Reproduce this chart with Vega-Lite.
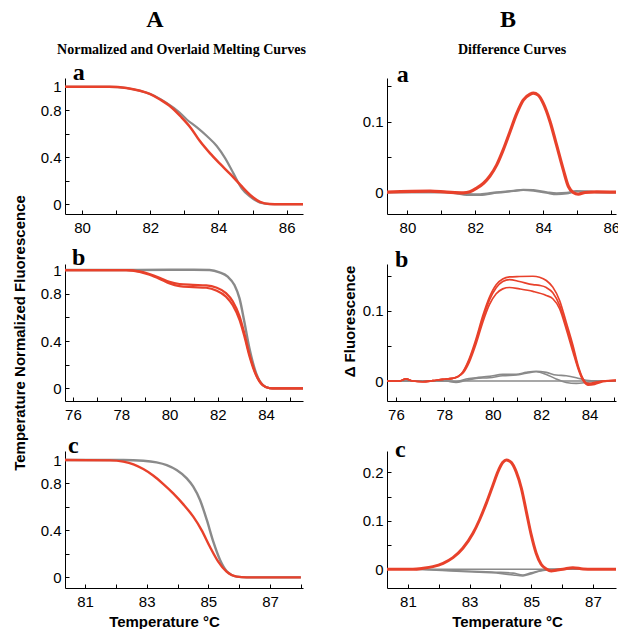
{
"$schema":"https://vega.github.io/schema/vega-lite/v6.json",
"autosize":{"type":"pad"},
"padding":{"left":12,"top":8,"right":0,"bottom":0},
"background":"white",
"columns":2,
"spacing":{"row":50,"column":84},
"bounds":"flush",
"config":{
 "view":{"stroke":null},
 "axis":{"domainColor":"#000","domainWidth":1,"tickColor":"#000","tickSize":-4,"tickWidth":1,"labelColor":"#000","labelFont":"Liberation Sans","labelFontSize":15,"labelFlush":false,"labelOverlap":false,"labelBound":false,"grid":false,"titleColor":"#000","titleFont":"Liberation Sans","titleFontSize":15,"titleFontWeight":"bold"},
 "axisX":{"labelPadding":10},
 "axisY":{"labelPadding":8}
},
"datasets":{
"lab":[{"p":"Aa","label":"a"},{"p":"Ab","label":"b"},{"p":"Ac","label":"c"},{"p":"Ba","label":"a"},{"p":"Bb","label":"b"},{"p":"Bc","label":"c"}],
"curves":[
{"p":"Aa","s":"g1","g":"gray","t":79.5,"v":1},{"p":"Aa","s":"g1","g":"gray","t":80.8,"v":1},{"p":"Aa","s":"g1","g":"gray","t":81.3,"v":0.99},{"p":"Aa","s":"g1","g":"gray","t":81.7,"v":0.966},{"p":"Aa","s":"g1","g":"gray","t":82.0,"v":0.938},{"p":"Aa","s":"g1","g":"gray","t":82.3,"v":0.895},{"p":"Aa","s":"g1","g":"gray","t":82.5,"v":0.858},{"p":"Aa","s":"g1","g":"gray","t":82.8,"v":0.796},{"p":"Aa","s":"g1","g":"gray","t":83.07,"v":0.722},{"p":"Aa","s":"g1","g":"gray","t":83.37,"v":0.654},{"p":"Aa","s":"g1","g":"gray","t":83.66,"v":0.581},{"p":"Aa","s":"g1","g":"gray","t":83.95,"v":0.496},{"p":"Aa","s":"g1","g":"gray","t":84.2,"v":0.391},{"p":"Aa","s":"g1","g":"gray","t":84.44,"v":0.263},{"p":"Aa","s":"g1","g":"gray","t":84.68,"v":0.136},{"p":"Aa","s":"g1","g":"gray","t":84.93,"v":0.065},{"p":"Aa","s":"g1","g":"gray","t":85.22,"v":0.014},{"p":"Aa","s":"g1","g":"gray","t":85.6,"v":0},{"p":"Aa","s":"g1","g":"gray","t":86.48,"v":0},
{"p":"Aa","s":"r1","g":"red","t":79.5,"v":1},{"p":"Aa","s":"r1","g":"red","t":80.8,"v":1},{"p":"Aa","s":"r1","g":"red","t":81.3,"v":0.99},{"p":"Aa","s":"r1","g":"red","t":81.7,"v":0.966},{"p":"Aa","s":"r1","g":"red","t":82.0,"v":0.938},{"p":"Aa","s":"r1","g":"red","t":82.3,"v":0.89},{"p":"Aa","s":"r1","g":"red","t":82.6,"v":0.83},{"p":"Aa","s":"r1","g":"red","t":82.9,"v":0.745},{"p":"Aa","s":"r1","g":"red","t":83.2,"v":0.646},{"p":"Aa","s":"r1","g":"red","t":83.45,"v":0.54},{"p":"Aa","s":"r1","g":"red","t":83.75,"v":0.435},{"p":"Aa","s":"r1","g":"red","t":84.05,"v":0.343},{"p":"Aa","s":"r1","g":"red","t":84.35,"v":0.256},{"p":"Aa","s":"r1","g":"red","t":84.65,"v":0.162},{"p":"Aa","s":"r1","g":"red","t":84.93,"v":0.079},{"p":"Aa","s":"r1","g":"red","t":85.22,"v":0.02},{"p":"Aa","s":"r1","g":"red","t":85.5,"v":0.002},{"p":"Aa","s":"r1","g":"red","t":85.8,"v":0},{"p":"Aa","s":"r1","g":"red","t":86.48,"v":0},
{"p":"Ab","s":"g1","g":"gray","t":75.67,"v":1},{"p":"Ab","s":"g1","g":"gray","t":78.2,"v":1},{"p":"Ab","s":"g1","g":"gray","t":80.0,"v":1.002},{"p":"Ab","s":"g1","g":"gray","t":81.0,"v":1.003},{"p":"Ab","s":"g1","g":"gray","t":81.66,"v":1},{"p":"Ab","s":"g1","g":"gray","t":82.07,"v":0.98},{"p":"Ab","s":"g1","g":"gray","t":82.41,"v":0.944},{"p":"Ab","s":"g1","g":"gray","t":82.69,"v":0.873},{"p":"Ab","s":"g1","g":"gray","t":82.9,"v":0.76},{"p":"Ab","s":"g1","g":"gray","t":83.1,"v":0.563},{"p":"Ab","s":"g1","g":"gray","t":83.31,"v":0.338},{"p":"Ab","s":"g1","g":"gray","t":83.59,"v":0.127},{"p":"Ab","s":"g1","g":"gray","t":83.86,"v":0.03},{"p":"Ab","s":"g1","g":"gray","t":84.14,"v":0.002},{"p":"Ab","s":"g1","g":"gray","t":84.4,"v":0},{"p":"Ab","s":"g1","g":"gray","t":85.53,"v":0},
{"p":"Ab","s":"r1","g":"red","t":75.67,"v":1},{"p":"Ab","s":"r1","g":"red","t":78.2,"v":1},{"p":"Ab","s":"r1","g":"red","t":78.76,"v":0.988},{"p":"Ab","s":"r1","g":"red","t":79.17,"v":0.966},{"p":"Ab","s":"r1","g":"red","t":79.59,"v":0.935},{"p":"Ab","s":"r1","g":"red","t":80.0,"v":0.9},{"p":"Ab","s":"r1","g":"red","t":80.41,"v":0.882},{"p":"Ab","s":"r1","g":"red","t":80.97,"v":0.875},{"p":"Ab","s":"r1","g":"red","t":81.52,"v":0.87},{"p":"Ab","s":"r1","g":"red","t":81.93,"v":0.852},{"p":"Ab","s":"r1","g":"red","t":82.34,"v":0.805},{"p":"Ab","s":"r1","g":"red","t":82.62,"v":0.735},{"p":"Ab","s":"r1","g":"red","t":82.9,"v":0.61},{"p":"Ab","s":"r1","g":"red","t":83.1,"v":0.465},{"p":"Ab","s":"r1","g":"red","t":83.31,"v":0.29},{"p":"Ab","s":"r1","g":"red","t":83.59,"v":0.115},{"p":"Ab","s":"r1","g":"red","t":83.86,"v":0.028},{"p":"Ab","s":"r1","g":"red","t":84.14,"v":0.002},{"p":"Ab","s":"r1","g":"red","t":84.4,"v":0},{"p":"Ab","s":"r1","g":"red","t":85.53,"v":0},
{"p":"Ab","s":"r2","g":"red","t":75.67,"v":1},{"p":"Ab","s":"r2","g":"red","t":78.2,"v":1},{"p":"Ab","s":"r2","g":"red","t":78.76,"v":0.985},{"p":"Ab","s":"r2","g":"red","t":79.17,"v":0.96},{"p":"Ab","s":"r2","g":"red","t":79.59,"v":0.925},{"p":"Ab","s":"r2","g":"red","t":80.0,"v":0.886},{"p":"Ab","s":"r2","g":"red","t":80.41,"v":0.864},{"p":"Ab","s":"r2","g":"red","t":80.97,"v":0.856},{"p":"Ab","s":"r2","g":"red","t":81.52,"v":0.85},{"p":"Ab","s":"r2","g":"red","t":81.93,"v":0.828},{"p":"Ab","s":"r2","g":"red","t":82.34,"v":0.775},{"p":"Ab","s":"r2","g":"red","t":82.62,"v":0.702},{"p":"Ab","s":"r2","g":"red","t":82.9,"v":0.578},{"p":"Ab","s":"r2","g":"red","t":83.1,"v":0.44},{"p":"Ab","s":"r2","g":"red","t":83.31,"v":0.272},{"p":"Ab","s":"r2","g":"red","t":83.59,"v":0.108},{"p":"Ab","s":"r2","g":"red","t":83.86,"v":0.026},{"p":"Ab","s":"r2","g":"red","t":84.14,"v":0.002},{"p":"Ab","s":"r2","g":"red","t":84.4,"v":0},{"p":"Ab","s":"r2","g":"red","t":85.53,"v":0},
{"p":"Ac","s":"g1","g":"gray","t":80.35,"v":1},{"p":"Ac","s":"g1","g":"gray","t":82.24,"v":1},{"p":"Ac","s":"g1","g":"gray","t":82.89,"v":0.994},{"p":"Ac","s":"g1","g":"gray","t":83.32,"v":0.98},{"p":"Ac","s":"g1","g":"gray","t":83.65,"v":0.957},{"p":"Ac","s":"g1","g":"gray","t":83.97,"v":0.915},{"p":"Ac","s":"g1","g":"gray","t":84.3,"v":0.844},{"p":"Ac","s":"g1","g":"gray","t":84.51,"v":0.773},{"p":"Ac","s":"g1","g":"gray","t":84.73,"v":0.659},{"p":"Ac","s":"g1","g":"gray","t":84.95,"v":0.489},{"p":"Ac","s":"g1","g":"gray","t":85.16,"v":0.304},{"p":"Ac","s":"g1","g":"gray","t":85.38,"v":0.148},{"p":"Ac","s":"g1","g":"gray","t":85.59,"v":0.054},{"p":"Ac","s":"g1","g":"gray","t":85.92,"v":0.006},{"p":"Ac","s":"g1","g":"gray","t":86.24,"v":0},{"p":"Ac","s":"g1","g":"gray","t":88.0,"v":0},
{"p":"Ac","s":"r1","g":"red","t":80.35,"v":1},{"p":"Ac","s":"r1","g":"red","t":81.81,"v":0.997},{"p":"Ac","s":"r1","g":"red","t":82.24,"v":0.986},{"p":"Ac","s":"r1","g":"red","t":82.57,"v":0.963},{"p":"Ac","s":"r1","g":"red","t":82.89,"v":0.923},{"p":"Ac","s":"r1","g":"red","t":83.22,"v":0.866},{"p":"Ac","s":"r1","g":"red","t":83.54,"v":0.795},{"p":"Ac","s":"r1","g":"red","t":83.86,"v":0.716},{"p":"Ac","s":"r1","g":"red","t":84.19,"v":0.622},{"p":"Ac","s":"r1","g":"red","t":84.51,"v":0.517},{"p":"Ac","s":"r1","g":"red","t":84.78,"v":0.403},{"p":"Ac","s":"r1","g":"red","t":85.05,"v":0.261},{"p":"Ac","s":"r1","g":"red","t":85.32,"v":0.134},{"p":"Ac","s":"r1","g":"red","t":85.59,"v":0.048},{"p":"Ac","s":"r1","g":"red","t":85.92,"v":0.006},{"p":"Ac","s":"r1","g":"red","t":86.24,"v":0},{"p":"Ac","s":"r1","g":"red","t":88.0,"v":0},
{"p":"Ba","s":"g1","g":"gray","t":79.4,"v":0},{"p":"Ba","s":"g1","g":"gray","t":81.16,"v":0},{"p":"Ba","s":"g1","g":"gray","t":81.45,"v":-0.002},{"p":"Ba","s":"g1","g":"gray","t":81.75,"v":-0.004},{"p":"Ba","s":"g1","g":"gray","t":82.14,"v":-0.004},{"p":"Ba","s":"g1","g":"gray","t":82.63,"v":-0.001},{"p":"Ba","s":"g1","g":"gray","t":83.12,"v":0.0015},{"p":"Ba","s":"g1","g":"gray","t":83.41,"v":0.003},{"p":"Ba","s":"g1","g":"gray","t":83.71,"v":0.002},{"p":"Ba","s":"g1","g":"gray","t":84.1,"v":-0.001},{"p":"Ba","s":"g1","g":"gray","t":84.39,"v":-0.003},{"p":"Ba","s":"g1","g":"gray","t":84.69,"v":-0.002},{"p":"Ba","s":"g1","g":"gray","t":84.98,"v":0.001},{"p":"Ba","s":"g1","g":"gray","t":85.27,"v":0.001},{"p":"Ba","s":"g1","g":"gray","t":85.57,"v":0},{"p":"Ba","s":"g1","g":"gray","t":86.14,"v":0},
{"p":"Ba","s":"g2","g":"gray","t":79.4,"v":0},{"p":"Ba","s":"g2","g":"gray","t":81.16,"v":0},{"p":"Ba","s":"g2","g":"gray","t":81.45,"v":-0.001},{"p":"Ba","s":"g2","g":"gray","t":81.75,"v":-0.0025},{"p":"Ba","s":"g2","g":"gray","t":82.14,"v":-0.003},{"p":"Ba","s":"g2","g":"gray","t":82.63,"v":0},{"p":"Ba","s":"g2","g":"gray","t":83.12,"v":0.002},{"p":"Ba","s":"g2","g":"gray","t":83.41,"v":0.0035},{"p":"Ba","s":"g2","g":"gray","t":83.71,"v":0.003},{"p":"Ba","s":"g2","g":"gray","t":84.1,"v":0},{"p":"Ba","s":"g2","g":"gray","t":84.39,"v":-0.0015},{"p":"Ba","s":"g2","g":"gray","t":84.69,"v":-0.001},{"p":"Ba","s":"g2","g":"gray","t":84.98,"v":0.0015},{"p":"Ba","s":"g2","g":"gray","t":85.27,"v":0.001},{"p":"Ba","s":"g2","g":"gray","t":85.57,"v":0},{"p":"Ba","s":"g2","g":"gray","t":86.14,"v":0},
{"p":"Ba","s":"r1","g":"red","t":79.4,"v":0},{"p":"Ba","s":"r1","g":"red","t":80.67,"v":0.0014},{"p":"Ba","s":"r1","g":"red","t":81.16,"v":0},{"p":"Ba","s":"r1","g":"red","t":81.65,"v":-0.001},{"p":"Ba","s":"r1","g":"red","t":81.84,"v":0.0005},{"p":"Ba","s":"r1","g":"red","t":82.04,"v":0.0057},{"p":"Ba","s":"r1","g":"red","t":82.24,"v":0.0127},{"p":"Ba","s":"r1","g":"red","t":82.43,"v":0.023},{"p":"Ba","s":"r1","g":"red","t":82.63,"v":0.0387},{"p":"Ba","s":"r1","g":"red","t":82.82,"v":0.06},{"p":"Ba","s":"r1","g":"red","t":83.02,"v":0.0858},{"p":"Ba","s":"r1","g":"red","t":83.22,"v":0.1118},{"p":"Ba","s":"r1","g":"red","t":83.41,"v":0.1307},{"p":"Ba","s":"r1","g":"red","t":83.61,"v":0.139},{"p":"Ba","s":"r1","g":"red","t":83.71,"v":0.1405},{"p":"Ba","s":"r1","g":"red","t":83.85,"v":0.1377},{"p":"Ba","s":"r1","g":"red","t":84.0,"v":0.126},{"p":"Ba","s":"r1","g":"red","t":84.2,"v":0.1},{"p":"Ba","s":"r1","g":"red","t":84.39,"v":0.067},{"p":"Ba","s":"r1","g":"red","t":84.59,"v":0.0316},{"p":"Ba","s":"r1","g":"red","t":84.74,"v":0.008},{"p":"Ba","s":"r1","g":"red","t":84.88,"v":-0.0005},{"p":"Ba","s":"r1","g":"red","t":85.03,"v":-0.003},{"p":"Ba","s":"r1","g":"red","t":85.23,"v":-0.0005},{"p":"Ba","s":"r1","g":"red","t":85.57,"v":0.0005},{"p":"Ba","s":"r1","g":"red","t":86.14,"v":0},
{"p":"Bb","s":"g0","g":"gray","t":75.63,"v":0},{"p":"Bb","s":"g0","g":"gray","t":85.09,"v":0},
{"p":"Bb","s":"g1","g":"gray","t":75.63,"v":0},{"p":"Bb","s":"g1","g":"gray","t":78.07,"v":0},{"p":"Bb","s":"g1","g":"gray","t":78.48,"v":-0.001},{"p":"Bb","s":"g1","g":"gray","t":78.9,"v":0.003},{"p":"Bb","s":"g1","g":"gray","t":79.31,"v":0.0047},{"p":"Bb","s":"g1","g":"gray","t":79.86,"v":0.0066},{"p":"Bb","s":"g1","g":"gray","t":80.41,"v":0.0094},{"p":"Bb","s":"g1","g":"gray","t":80.97,"v":0.0094},{"p":"Bb","s":"g1","g":"gray","t":81.38,"v":0.0123},{"p":"Bb","s":"g1","g":"gray","t":81.79,"v":0.014},{"p":"Bb","s":"g1","g":"gray","t":82.21,"v":0.0123},{"p":"Bb","s":"g1","g":"gray","t":82.62,"v":0.0085},{"p":"Bb","s":"g1","g":"gray","t":83.03,"v":0.0075},{"p":"Bb","s":"g1","g":"gray","t":83.45,"v":0.0047},{"p":"Bb","s":"g1","g":"gray","t":83.86,"v":0.001},{"p":"Bb","s":"g1","g":"gray","t":84.28,"v":0},{"p":"Bb","s":"g1","g":"gray","t":85.09,"v":0},
{"p":"Bb","s":"g2","g":"gray","t":75.63,"v":0},{"p":"Bb","s":"g2","g":"gray","t":78.07,"v":0},{"p":"Bb","s":"g2","g":"gray","t":78.48,"v":-0.002},{"p":"Bb","s":"g2","g":"gray","t":78.9,"v":0.001},{"p":"Bb","s":"g2","g":"gray","t":79.31,"v":0.0038},{"p":"Bb","s":"g2","g":"gray","t":79.86,"v":0.0047},{"p":"Bb","s":"g2","g":"gray","t":80.41,"v":0.0075},{"p":"Bb","s":"g2","g":"gray","t":80.97,"v":0.0085},{"p":"Bb","s":"g2","g":"gray","t":81.38,"v":0.011},{"p":"Bb","s":"g2","g":"gray","t":81.79,"v":0.0132},{"p":"Bb","s":"g2","g":"gray","t":82.21,"v":0.0094},{"p":"Bb","s":"g2","g":"gray","t":82.62,"v":0.003},{"p":"Bb","s":"g2","g":"gray","t":83.03,"v":-0.002},{"p":"Bb","s":"g2","g":"gray","t":83.45,"v":-0.0033},{"p":"Bb","s":"g2","g":"gray","t":83.86,"v":-0.002},{"p":"Bb","s":"g2","g":"gray","t":84.28,"v":0},{"p":"Bb","s":"g2","g":"gray","t":85.09,"v":0},
{"p":"Bb","s":"r1","g":"red","t":75.63,"v":0},{"p":"Bb","s":"r1","g":"red","t":76.14,"v":0},{"p":"Bb","s":"r1","g":"red","t":76.41,"v":0.003},{"p":"Bb","s":"r1","g":"red","t":76.69,"v":0},{"p":"Bb","s":"r1","g":"red","t":77.1,"v":-0.001},{"p":"Bb","s":"r1","g":"red","t":77.52,"v":0.0005},{"p":"Bb","s":"r1","g":"red","t":77.93,"v":0.0024},{"p":"Bb","s":"r1","g":"red","t":78.34,"v":0.0038},{"p":"Bb","s":"r1","g":"red","t":78.55,"v":0.006},{"p":"Bb","s":"r1","g":"red","t":78.76,"v":0.013},{"p":"Bb","s":"r1","g":"red","t":79.03,"v":0.032},{"p":"Bb","s":"r1","g":"red","t":79.31,"v":0.06},{"p":"Bb","s":"r1","g":"red","t":79.59,"v":0.093},{"p":"Bb","s":"r1","g":"red","t":79.86,"v":0.119},{"p":"Bb","s":"r1","g":"red","t":80.14,"v":0.137},{"p":"Bb","s":"r1","g":"red","t":80.41,"v":0.145},{"p":"Bb","s":"r1","g":"red","t":80.69,"v":0.148},{"p":"Bb","s":"r1","g":"red","t":81.1,"v":0.1486},{"p":"Bb","s":"r1","g":"red","t":81.66,"v":0.149},{"p":"Bb","s":"r1","g":"red","t":81.93,"v":0.1476},{"p":"Bb","s":"r1","g":"red","t":82.21,"v":0.143},{"p":"Bb","s":"r1","g":"red","t":82.48,"v":0.1335},{"p":"Bb","s":"r1","g":"red","t":82.76,"v":0.1146},{"p":"Bb","s":"r1","g":"red","t":83.03,"v":0.084},{"p":"Bb","s":"r1","g":"red","t":83.31,"v":0.051},{"p":"Bb","s":"r1","g":"red","t":83.52,"v":0.0226},{"p":"Bb","s":"r1","g":"red","t":83.72,"v":0.0038},{"p":"Bb","s":"r1","g":"red","t":83.93,"v":-0.0033},{"p":"Bb","s":"r1","g":"red","t":84.21,"v":-0.002},{"p":"Bb","s":"r1","g":"red","t":84.55,"v":0},{"p":"Bb","s":"r1","g":"red","t":85.09,"v":0.001},
{"p":"Bb","s":"r2","g":"red","t":75.63,"v":0},{"p":"Bb","s":"r2","g":"red","t":76.14,"v":0},{"p":"Bb","s":"r2","g":"red","t":76.41,"v":0.003},{"p":"Bb","s":"r2","g":"red","t":76.69,"v":0},{"p":"Bb","s":"r2","g":"red","t":77.1,"v":-0.001},{"p":"Bb","s":"r2","g":"red","t":77.52,"v":0.0005},{"p":"Bb","s":"r2","g":"red","t":77.93,"v":0.0024},{"p":"Bb","s":"r2","g":"red","t":78.34,"v":0.0038},{"p":"Bb","s":"r2","g":"red","t":78.55,"v":0.006},{"p":"Bb","s":"r2","g":"red","t":78.76,"v":0.012},{"p":"Bb","s":"r2","g":"red","t":79.03,"v":0.03},{"p":"Bb","s":"r2","g":"red","t":79.31,"v":0.057},{"p":"Bb","s":"r2","g":"red","t":79.59,"v":0.089},{"p":"Bb","s":"r2","g":"red","t":79.86,"v":0.115},{"p":"Bb","s":"r2","g":"red","t":80.14,"v":0.1325},{"p":"Bb","s":"r2","g":"red","t":80.41,"v":0.1415},{"p":"Bb","s":"r2","g":"red","t":80.69,"v":0.1443},{"p":"Bb","s":"r2","g":"red","t":81.1,"v":0.1415},{"p":"Bb","s":"r2","g":"red","t":81.66,"v":0.137},{"p":"Bb","s":"r2","g":"red","t":81.93,"v":0.136},{"p":"Bb","s":"r2","g":"red","t":82.21,"v":0.133},{"p":"Bb","s":"r2","g":"red","t":82.48,"v":0.1255},{"p":"Bb","s":"r2","g":"red","t":82.76,"v":0.1075},{"p":"Bb","s":"r2","g":"red","t":83.03,"v":0.078},{"p":"Bb","s":"r2","g":"red","t":83.31,"v":0.046},{"p":"Bb","s":"r2","g":"red","t":83.52,"v":0.02},{"p":"Bb","s":"r2","g":"red","t":83.72,"v":0.003},{"p":"Bb","s":"r2","g":"red","t":83.93,"v":-0.0047},{"p":"Bb","s":"r2","g":"red","t":84.21,"v":-0.003},{"p":"Bb","s":"r2","g":"red","t":84.55,"v":0},{"p":"Bb","s":"r2","g":"red","t":85.09,"v":0.001},
{"p":"Bb","s":"r3","g":"red","t":75.63,"v":0},{"p":"Bb","s":"r3","g":"red","t":76.14,"v":0},{"p":"Bb","s":"r3","g":"red","t":76.41,"v":0.003},{"p":"Bb","s":"r3","g":"red","t":76.69,"v":0},{"p":"Bb","s":"r3","g":"red","t":77.1,"v":-0.001},{"p":"Bb","s":"r3","g":"red","t":77.52,"v":0.0005},{"p":"Bb","s":"r3","g":"red","t":77.93,"v":0.0024},{"p":"Bb","s":"r3","g":"red","t":78.34,"v":0.0038},{"p":"Bb","s":"r3","g":"red","t":78.55,"v":0.006},{"p":"Bb","s":"r3","g":"red","t":78.76,"v":0.011},{"p":"Bb","s":"r3","g":"red","t":79.03,"v":0.027},{"p":"Bb","s":"r3","g":"red","t":79.31,"v":0.053},{"p":"Bb","s":"r3","g":"red","t":79.59,"v":0.084},{"p":"Bb","s":"r3","g":"red","t":79.86,"v":0.1085},{"p":"Bb","s":"r3","g":"red","t":80.14,"v":0.124},{"p":"Bb","s":"r3","g":"red","t":80.41,"v":0.131},{"p":"Bb","s":"r3","g":"red","t":80.69,"v":0.133},{"p":"Bb","s":"r3","g":"red","t":81.1,"v":0.131},{"p":"Bb","s":"r3","g":"red","t":81.66,"v":0.1274},{"p":"Bb","s":"r3","g":"red","t":82.21,"v":0.1217},{"p":"Bb","s":"r3","g":"red","t":82.48,"v":0.117},{"p":"Bb","s":"r3","g":"red","t":82.76,"v":0.1028},{"p":"Bb","s":"r3","g":"red","t":83.03,"v":0.0745},{"p":"Bb","s":"r3","g":"red","t":83.31,"v":0.0415},{"p":"Bb","s":"r3","g":"red","t":83.52,"v":0.018},{"p":"Bb","s":"r3","g":"red","t":83.72,"v":0.0014},{"p":"Bb","s":"r3","g":"red","t":83.93,"v":-0.0057},{"p":"Bb","s":"r3","g":"red","t":84.21,"v":-0.0047},{"p":"Bb","s":"r3","g":"red","t":84.55,"v":-0.001},{"p":"Bb","s":"r3","g":"red","t":85.09,"v":0.001},
{"p":"Bc","s":"g0","g":"gray","t":80.32,"v":0},{"p":"Bc","s":"g0","g":"gray","t":87.75,"v":0},
{"p":"Bc","s":"g1","g":"gray","t":80.32,"v":0},{"p":"Bc","s":"g1","g":"gray","t":81.16,"v":0},{"p":"Bc","s":"g1","g":"gray","t":81.7,"v":-0.0007},{"p":"Bc","s":"g1","g":"gray","t":82.24,"v":-0.002},{"p":"Bc","s":"g1","g":"gray","t":82.78,"v":-0.0034},{"p":"Bc","s":"g1","g":"gray","t":83.32,"v":-0.0048},{"p":"Bc","s":"g1","g":"gray","t":83.86,"v":-0.006},{"p":"Bc","s":"g1","g":"gray","t":84.41,"v":-0.008},{"p":"Bc","s":"g1","g":"gray","t":84.73,"v":-0.0117},{"p":"Bc","s":"g1","g":"gray","t":84.95,"v":-0.008},{"p":"Bc","s":"g1","g":"gray","t":85.27,"v":-0.0034},{"p":"Bc","s":"g1","g":"gray","t":85.59,"v":-0.0007},{"p":"Bc","s":"g1","g":"gray","t":86.03,"v":0},{"p":"Bc","s":"g1","g":"gray","t":87.75,"v":0},
{"p":"Bc","s":"g2","g":"gray","t":80.32,"v":0},{"p":"Bc","s":"g2","g":"gray","t":81.16,"v":0},{"p":"Bc","s":"g2","g":"gray","t":82.24,"v":-0.0027},{"p":"Bc","s":"g2","g":"gray","t":83.32,"v":-0.006},{"p":"Bc","s":"g2","g":"gray","t":83.86,"v":-0.0076},{"p":"Bc","s":"g2","g":"gray","t":84.41,"v":-0.0117},{"p":"Bc","s":"g2","g":"gray","t":84.73,"v":-0.0137},{"p":"Bc","s":"g2","g":"gray","t":84.95,"v":-0.0103},{"p":"Bc","s":"g2","g":"gray","t":85.27,"v":-0.0034},{"p":"Bc","s":"g2","g":"gray","t":85.59,"v":0},{"p":"Bc","s":"g2","g":"gray","t":87.75,"v":0},
{"p":"Bc","s":"r1","g":"red","t":80.32,"v":0},{"p":"Bc","s":"r1","g":"red","t":81.16,"v":0},{"p":"Bc","s":"r1","g":"red","t":81.49,"v":0.002},{"p":"Bc","s":"r1","g":"red","t":81.81,"v":0.0055},{"p":"Bc","s":"r1","g":"red","t":82.14,"v":0.0124},{"p":"Bc","s":"r1","g":"red","t":82.46,"v":0.024},{"p":"Bc","s":"r1","g":"red","t":82.78,"v":0.0433},{"p":"Bc","s":"r1","g":"red","t":83.11,"v":0.0742},{"p":"Bc","s":"r1","g":"red","t":83.32,"v":0.1017},{"p":"Bc","s":"r1","g":"red","t":83.54,"v":0.136},{"p":"Bc","s":"r1","g":"red","t":83.76,"v":0.174},{"p":"Bc","s":"r1","g":"red","t":83.92,"v":0.2014},{"p":"Bc","s":"r1","g":"red","t":84.08,"v":0.2206},{"p":"Bc","s":"r1","g":"red","t":84.19,"v":0.2254},{"p":"Bc","s":"r1","g":"red","t":84.35,"v":0.2206},{"p":"Bc","s":"r1","g":"red","t":84.51,"v":0.2014},{"p":"Bc","s":"r1","g":"red","t":84.68,"v":0.167},{"p":"Bc","s":"r1","g":"red","t":84.84,"v":0.119},{"p":"Bc","s":"r1","g":"red","t":85.0,"v":0.0708},{"p":"Bc","s":"r1","g":"red","t":85.16,"v":0.033},{"p":"Bc","s":"r1","g":"red","t":85.32,"v":0.0103},{"p":"Bc","s":"r1","g":"red","t":85.49,"v":0.0007},{"p":"Bc","s":"r1","g":"red","t":85.65,"v":-0.0034},{"p":"Bc","s":"r1","g":"red","t":85.81,"v":-0.002},{"p":"Bc","s":"r1","g":"red","t":86.03,"v":0},{"p":"Bc","s":"r1","g":"red","t":86.35,"v":0.0034},{"p":"Bc","s":"r1","g":"red","t":86.68,"v":0.0007},{"p":"Bc","s":"r1","g":"red","t":87.0,"v":0},{"p":"Bc","s":"r1","g":"red","t":87.75,"v":0}
]},
"concat":[
{"width":238,"height":136,
 "title":{"text":"A","font":"Liberation Serif","fontSize":24,"fontWeight":"bold","color":"#000","anchor":"middle","frame":"group","dx":-29,"offset":10},
 "layer":[
  {"data":{"name":"curves"},"transform":[{"filter":"datum.p=='Aa'&&datum.g=='gray'"}],
   "mark":{"type":"line","color":"#8a8a8a","strokeWidth":2.2,"interpolate":"monotone"},
   "encoding":{"x":{"field":"t","type":"quantitative","scale":{"domain":[79.5,86.48],"nice":false,"zero":false},"axis":{"values":[80,81,82,83,84,85,86],"tickCount":40,"format":"d","labelOverlap":false,"labelExpr":"datum.value%2==0?datum.label:''","title":null}},
    "y":{"field":"v","type":"quantitative","scale":{"domain":[-0.083,1.075],"nice":false,"zero":false},"axis":{"values":[0,0.2,0.4,0.6,0.8,1],"tickCount":40,"labelOverlap":false,"labelExpr":"datum.value==1?'1':datum.value==0.8?'0.8':datum.value==0.4?'0.4':datum.value==0?'0':''","title":null}},
    "detail":{"field":"s"}}},
  {"data":{"name":"curves"},"transform":[{"filter":"datum.p=='Aa'&&datum.g=='red'"}],
   "mark":{"type":"line","color":"#e8412b","strokeWidth":2.5,"interpolate":"monotone"},
   "encoding":{"x":{"field":"t","type":"quantitative","axis":null},"y":{"field":"v","type":"quantitative"},"detail":{"field":"s"}}},
  {"data":{"name":"lab"},"transform":[{"filter":"datum.p=='Aa'"}],
   "mark":{"type":"text","font":"Liberation Serif","fontSize":24,"fontWeight":"bold","align":"left","baseline":"alphabetic","color":"#000"},
   "encoding":{"x":{"datum":79.73,"type":"quantitative","axis":{"orient":"top","title":"Normalized and Overlaid Melting Curves","titleFont":"Liberation Serif","titleFontSize":14,"titleFontWeight":"bold","titlePadding":22,"titleX":116,"labels":false,"ticks":false,"domain":false}},
    "y":{"datum":1.058,"type":"quantitative"},"text":{"field":"label"}}}
 ],
 "resolve":{"axis":{"x":"independent"}}},
{"width":229,"height":136,
 "title":{"text":"B","font":"Liberation Serif","fontSize":24,"fontWeight":"bold","color":"#000","anchor":"middle","frame":"group","dx":6.5,"offset":10},
 "layer":[
  {"data":{"name":"curves"},"transform":[{"filter":"datum.p=='Ba'&&datum.g=='gray'"}],
   "mark":{"type":"line","color":"#8a8a8a","strokeWidth":2,"interpolate":"monotone"},
   "encoding":{"x":{"field":"t","type":"quantitative","scale":{"domain":[79.4,86.14],"nice":false,"zero":false},"axis":{"values":[80,81,82,83,84,85,86],"tickCount":40,"format":"d","labelOverlap":false,"labelExpr":"datum.value%2==0?datum.label:''","title":null}},
    "y":{"field":"v","type":"quantitative","scale":{"domain":[-0.031,0.162],"nice":false,"zero":false},"axis":{"values":[0,0.05,0.1,0.15],"tickCount":40,"labelOverlap":false,"labelExpr":"datum.value==0.1?'0.1':datum.value==0?'0':''","title":null}},
    "detail":{"field":"s"}}},
  {"data":{"name":"curves"},"transform":[{"filter":"datum.p=='Ba'&&datum.g=='red'"}],
   "mark":{"type":"line","color":"#e8412b","strokeWidth":3.2,"interpolate":"monotone"},
   "encoding":{"x":{"field":"t","type":"quantitative","axis":null},"y":{"field":"v","type":"quantitative"},"detail":{"field":"s"}}},
  {"data":{"name":"lab"},"transform":[{"filter":"datum.p=='Ba'"}],
   "mark":{"type":"text","font":"Liberation Serif","fontSize":24,"fontWeight":"bold","align":"left","baseline":"alphabetic","color":"#000"},
   "encoding":{"x":{"datum":79.69,"type":"quantitative","axis":{"orient":"top","title":"Difference Curves","titleFont":"Liberation Serif","titleFontSize":14,"titleFontWeight":"bold","titlePadding":22,"titleX":124.5,"labels":false,"ticks":false,"domain":false}},
    "y":{"datum":0.156,"type":"quantitative"},"text":{"field":"label"}}}
 ],
 "resolve":{"axis":{"x":"independent"}}},
{"width":238,"height":137,
 "layer":[
  {"data":{"name":"curves"},"transform":[{"filter":"datum.p=='Ab'&&datum.g=='gray'"}],
   "mark":{"type":"line","color":"#8a8a8a","strokeWidth":2.4,"interpolate":"monotone"},
   "encoding":{"x":{"field":"t","type":"quantitative","scale":{"domain":[75.67,85.53],"nice":false,"zero":false},"axis":{"values":[76,77,78,79,80,81,82,83,84,85],"tickCount":40,"format":"d","labelOverlap":false,"labelExpr":"datum.value%2==0?datum.label:''","title":null}},
    "y":{"field":"v","type":"quantitative","scale":{"domain":[-0.107,1.051],"nice":false,"zero":false},"axis":{"values":[0,0.2,0.4,0.6,0.8,1],"tickCount":40,"labelOverlap":false,"labelExpr":"datum.value==1?'1':datum.value==0.8?'0.8':datum.value==0.4?'0.4':datum.value==0?'0':''","title":"Temperature Normalized Fluorescence","titlePadding":13}},
    "detail":{"field":"s"}}},
  {"data":{"name":"curves"},"transform":[{"filter":"datum.p=='Ab'&&datum.g=='red'"}],
   "mark":{"type":"line","color":"#e8412b","strokeWidth":2.2,"interpolate":"monotone"},
   "encoding":{"x":{"field":"t","type":"quantitative","axis":null},"y":{"field":"v","type":"quantitative"},"detail":{"field":"s"}}},
  {"data":{"name":"lab"},"transform":[{"filter":"datum.p=='Ab'"}],
   "mark":{"type":"text","font":"Liberation Serif","fontSize":24,"fontWeight":"bold","align":"left","baseline":"alphabetic","color":"#000"},
   "encoding":{"x":{"datum":75.96,"type":"quantitative","axis":null},"y":{"datum":1.043,"type":"quantitative"},"text":{"field":"label"}}}
 ],
 "resolve":{"axis":{"x":"independent"}}},
{"width":229,"height":137,
 "layer":[
  {"data":{"name":"curves"},"transform":[{"filter":"datum.p=='Bb'&&datum.g=='gray'"}],
   "mark":{"type":"line","color":"#8a8a8a","strokeWidth":1.6,"interpolate":"monotone"},
   "encoding":{"x":{"field":"t","type":"quantitative","scale":{"domain":[75.63,85.09],"nice":false,"zero":false},"axis":{"values":[76,77,78,79,80,81,82,83,84,85],"tickCount":40,"format":"d","labelOverlap":false,"labelExpr":"datum.value%2==0?datum.label:''","title":null}},
    "y":{"field":"v","type":"quantitative","scale":{"domain":[-0.0284,0.1664],"nice":false,"zero":false},"axis":{"values":[0,0.05,0.1,0.15],"tickCount":40,"labelOverlap":false,"labelExpr":"datum.value==0.1?'0.1':datum.value==0?'0':''","title":"Δ Fluorescence","titlePadding":5,"titleY":57}},
    "detail":{"field":"s"}}},
  {"data":{"name":"curves"},"transform":[{"filter":"datum.p=='Bb'&&datum.g=='red'"}],
   "mark":{"type":"line","color":"#e8412b","strokeWidth":1.7,"interpolate":"monotone"},
   "encoding":{"x":{"field":"t","type":"quantitative","axis":null},"y":{"field":"v","type":"quantitative"},"detail":{"field":"s"}}},
  {"data":{"name":"lab"},"transform":[{"filter":"datum.p=='Bb'"}],
   "mark":{"type":"text","font":"Liberation Serif","fontSize":24,"fontWeight":"bold","align":"left","baseline":"alphabetic","color":"#000"},
   "encoding":{"x":{"datum":75.96,"type":"quantitative","axis":null},"y":{"datum":0.162,"type":"quantitative"},"text":{"field":"label"}}}
 ],
 "resolve":{"axis":{"x":"independent"}}},
{"width":238,"height":137,
 "layer":[
  {"data":{"name":"curves"},"transform":[{"filter":"datum.p=='Ac'&&datum.g=='gray'"}],
   "mark":{"type":"line","color":"#8a8a8a","strokeWidth":2.4,"interpolate":"monotone"},
   "encoding":{"x":{"field":"t","type":"quantitative","scale":{"domain":[80.35,88.07],"nice":false,"zero":false},"axis":{"values":[81,82,83,84,85,86,87,88],"tickCount":40,"format":"d","labelOverlap":false,"labelExpr":"datum.value%2==1?datum.label:''","title":"Temperature °C","titlePadding":5,"titleX":99}},
    "y":{"field":"v","type":"quantitative","scale":{"domain":[-0.091,1.077],"nice":false,"zero":false},"axis":{"values":[0,0.2,0.4,0.6,0.8,1],"tickCount":40,"labelOverlap":false,"labelExpr":"datum.value==1?'1':datum.value==0.8?'0.8':datum.value==0.4?'0.4':datum.value==0?'0':''","title":null}},
    "detail":{"field":"s"}}},
  {"data":{"name":"curves"},"transform":[{"filter":"datum.p=='Ac'&&datum.g=='red'"}],
   "mark":{"type":"line","color":"#e8412b","strokeWidth":2.4,"interpolate":"monotone"},
   "encoding":{"x":{"field":"t","type":"quantitative","axis":null},"y":{"field":"v","type":"quantitative"},"detail":{"field":"s"}}},
  {"data":{"name":"lab"},"transform":[{"filter":"datum.p=='Ac'"}],
   "mark":{"type":"text","font":"Liberation Serif","fontSize":24,"fontWeight":"bold","align":"left","baseline":"alphabetic","color":"#000"},
   "encoding":{"x":{"datum":80.45,"type":"quantitative","axis":null},"y":{"datum":1.06,"type":"quantitative"},"text":{"field":"label"}}}
 ],
 "resolve":{"axis":{"x":"independent"}}},
{"width":229,"height":137,
 "layer":[
  {"data":{"name":"curves"},"transform":[{"filter":"datum.p=='Bc'&&datum.g=='gray'"}],
   "mark":{"type":"line","color":"#8a8a8a","strokeWidth":1.6,"interpolate":"monotone"},
   "encoding":{"x":{"field":"t","type":"quantitative","scale":{"domain":[80.32,87.75],"nice":false,"zero":false},"axis":{"values":[81,82,83,84,85,86,87],"tickCount":40,"format":"d","labelOverlap":false,"labelExpr":"datum.value%2==1?datum.label:''","title":"Temperature °C","titlePadding":5,"titleX":120}},
    "y":{"field":"v","type":"quantitative","scale":{"domain":[-0.0386,0.244],"nice":false,"zero":false},"axis":{"values":[0,0.05,0.1,0.15,0.2],"tickCount":40,"labelOverlap":false,"labelExpr":"datum.value==0.2?'0.2':datum.value==0.1?'0.1':datum.value==0?'0':''","title":null}},
    "detail":{"field":"s"}}},
  {"data":{"name":"curves"},"transform":[{"filter":"datum.p=='Bc'&&datum.g=='red'"}],
   "mark":{"type":"line","color":"#e8412b","strokeWidth":3,"interpolate":"monotone"},
   "encoding":{"x":{"field":"t","type":"quantitative","axis":null},"y":{"field":"v","type":"quantitative"},"detail":{"field":"s"}}},
  {"data":{"name":"lab"},"transform":[{"filter":"datum.p=='Bc'"}],
   "mark":{"type":"text","font":"Liberation Serif","fontSize":24,"fontWeight":"bold","align":"left","baseline":"alphabetic","color":"#000"},
   "encoding":{"x":{"datum":80.58,"type":"quantitative","axis":null},"y":{"datum":0.2316,"type":"quantitative"},"text":{"field":"label"}}}
 ],
 "resolve":{"axis":{"x":"independent"}}}
]
}
